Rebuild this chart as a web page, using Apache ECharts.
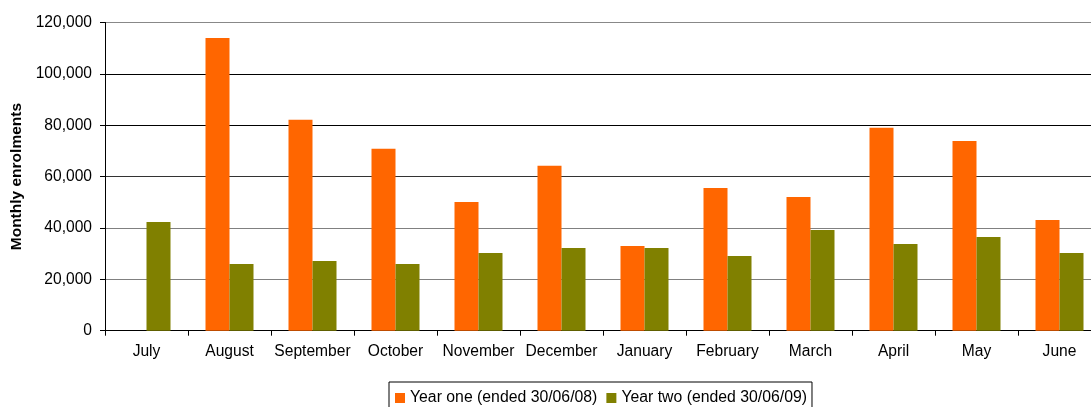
<!DOCTYPE html>
<html>
<head>
<meta charset="utf-8">
<script src="https://cdn.jsdelivr.net/npm/echarts@6/dist/echarts.min.js"></script>
<style>
html,body{margin:0;padding:0;background:#fff;overflow:hidden;width:1091px;height:407px;}
#c{width:1110px;height:407px;}
</style>
</head>
<body>
<div id="c"></div>
<script>
const months = ['July','August','September','October','November','December','January','February','March','April','May','June'];
const yearOne = [null,114000,82100,70800,50100,64200,33000,55600,52100,79000,73900,43100];
const yearTwo = [42300,26000,27100,26000,30300,32200,32200,29100,39200,33800,36500,30300];
const seriesNames = ['Year one (ended 30/06/08)','Year two (ended 30/06/09)'];
const yTitle = 'Monthly enrolments';

const font = "'Liberation Sans', Arial, sans-serif";
const chart = echarts.init(document.getElementById('c'), null, {renderer:'canvas'});
chart.setOption({
  animation:false,
  textStyle:{fontFamily:font},
  grid:{left:105, top:22.5, bottom:76.3, width:996, containLabel:false},
  legend:{
    left:389, top:382,
    orient:'horizontal',
    icon:'rect', itemWidth:10, itemHeight:10, itemGap:9,
    padding:[8,5,8,6],
    borderColor:'#000', borderWidth:1,
    textStyle:{fontFamily:font, fontSize:15.8, color:'#000'},
    data:seriesNames
  },
  xAxis:{
    type:'category',
    data:months,
    axisLine:{lineStyle:{color:'#000', width:1}},
    axisTick:{show:true, length:5, lineStyle:{color:'#000'}},
    axisLabel:{fontFamily:font, fontSize:15.6, color:'#000', margin:13, interval:0}
  },
  yAxis:{
    type:'value', min:0, max:120000, interval:20000,
    name:yTitle, nameLocation:'middle', nameGap:79,
    nameTextStyle:{fontFamily:font, fontSize:15.5, fontWeight:'bold', color:'#000'},
    axisLine:{show:true, lineStyle:{color:'#000', width:1}},
    axisTick:{show:true, length:5, lineStyle:{color:'#000'}},
    axisLabel:{fontFamily:font, fontSize:15.6, color:'#000', margin:13,
      formatter:v=>v.toLocaleString('en-US')},
    splitLine:{show:true, lineStyle:{color:['#000','#808080','#808080','#333','#000','#000','#888'], width:1}}
  },
  series:[
    {name:seriesNames[0], type:'bar', data:yearOne, barWidth:24, barGap:'0%', itemStyle:{color:'#FF6600'}},
    {name:seriesNames[1], type:'bar', data:yearTwo, barWidth:24, barGap:'0%', itemStyle:{color:'#808000'}}
  ]
});
</script>
</body>
</html>
